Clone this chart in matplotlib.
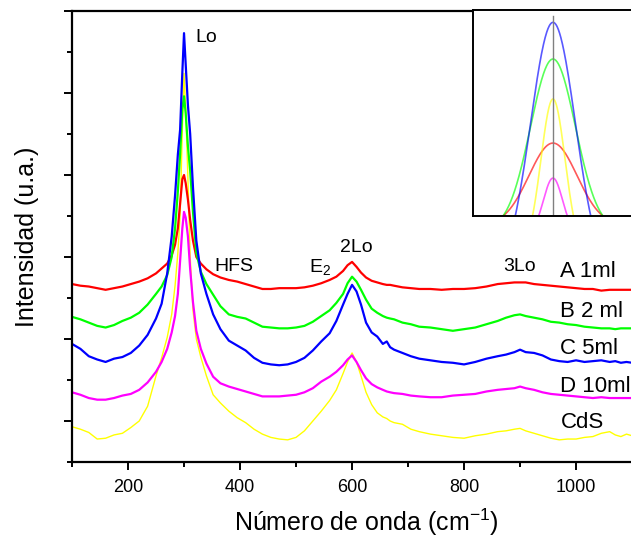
import numpy as np
import matplotlib
matplotlib.use("Agg")
import matplotlib.pyplot as plt
from matplotlib.ticker import MultipleLocator, NullFormatter

plt.rcParams['font.family'] = ['Liberation Sans', 'DejaVu Sans']
plt.rcParams['mathtext.fontset'] = 'custom'
plt.rcParams['mathtext.rm'] = 'Liberation Sans'

# Raman shift (cm-1), shared by all spectra
wavenumber = [100, 115, 130, 145, 160, 175, 190, 205, 220, 235,
              250, 260, 270, 278, 284, 289, 293, 297, 300, 303,
              307, 311, 316, 322, 330, 340, 352, 365, 380, 395,
              410, 425, 440, 455, 470, 485, 500, 515, 530, 545,
              560, 572, 584, 592, 600, 608, 616, 625, 635, 645,
              655, 662, 668, 675, 690, 705, 720, 740, 760, 780,
              800, 820, 840, 860, 875, 890, 900, 910, 925, 940,
              955, 970, 985, 1000, 1015, 1030, 1045, 1060, 1070, 1080,
              1090, 1100]

# stacked intensities (arbitrary units, already offset)
spec_A = [2.17, 2.15, 2.14, 2.12, 2.10, 2.12, 2.14, 2.17, 2.20, 2.24,
          2.30, 2.36, 2.42, 2.52, 2.65, 2.85, 3.15, 3.45, 3.50, 3.40,
          3.20, 2.95, 2.70, 2.50, 2.42, 2.35, 2.29, 2.25, 2.22, 2.20,
          2.17, 2.14, 2.11, 2.11, 2.12, 2.12, 2.12, 2.13, 2.15, 2.18,
          2.22, 2.26, 2.33, 2.40, 2.44, 2.38, 2.31, 2.25, 2.21, 2.19,
          2.17, 2.16, 2.16, 2.15, 2.13, 2.12, 2.11, 2.11, 2.10, 2.11,
          2.11, 2.12, 2.14, 2.17, 2.18, 2.19, 2.19, 2.19, 2.17, 2.16,
          2.15, 2.14, 2.13, 2.12, 2.11, 2.11, 2.09, 2.10, 2.10, 2.10,
          2.10, 2.10]
spec_B = [1.77, 1.74, 1.70, 1.66, 1.64, 1.67, 1.72, 1.76, 1.82, 1.92,
          2.05, 2.14, 2.28, 2.50, 2.85, 3.30, 3.75, 4.30, 4.46, 4.25,
          3.85, 3.55, 3.05, 2.55, 2.32, 2.17, 2.04, 1.90, 1.80, 1.77,
          1.75, 1.70, 1.65, 1.64, 1.63, 1.63, 1.64, 1.66, 1.71, 1.78,
          1.85, 1.94, 2.05, 2.18, 2.26, 2.20, 2.10, 1.98, 1.87, 1.82,
          1.78, 1.76, 1.75, 1.74, 1.70, 1.68, 1.65, 1.64, 1.62, 1.60,
          1.62, 1.64, 1.68, 1.72, 1.76, 1.79, 1.80, 1.78, 1.76, 1.74,
          1.71, 1.70, 1.68, 1.67, 1.65, 1.64, 1.63, 1.63, 1.62, 1.63,
          1.63, 1.63]
spec_C = [1.44, 1.38, 1.29, 1.25, 1.22, 1.26, 1.28, 1.33, 1.42, 1.55,
          1.75, 1.93, 2.30, 2.75, 3.25, 3.75, 4.05, 4.75, 5.23, 4.85,
          4.35, 4.00, 3.35, 2.70, 2.30, 2.05, 1.80, 1.62, 1.48, 1.42,
          1.36, 1.27, 1.21, 1.19, 1.18, 1.19, 1.22, 1.27, 1.36, 1.47,
          1.57, 1.72, 1.92, 2.05, 2.16, 2.08, 1.92, 1.70, 1.58, 1.53,
          1.44, 1.47, 1.40, 1.37, 1.33, 1.29, 1.26, 1.24, 1.22, 1.21,
          1.19, 1.22, 1.26, 1.29, 1.31, 1.34, 1.37, 1.34, 1.33, 1.30,
          1.25, 1.23, 1.22, 1.24, 1.22, 1.23, 1.24, 1.22, 1.23, 1.21,
          1.22, 1.21]
spec_D = [0.85, 0.82, 0.78, 0.76, 0.76, 0.78, 0.81, 0.83, 0.88, 0.97,
          1.10, 1.22, 1.38, 1.58, 1.78, 2.05, 2.45, 2.85, 3.05, 2.98,
          2.75, 2.35, 1.95, 1.60, 1.38, 1.20, 1.04, 0.96, 0.92, 0.89,
          0.86, 0.83, 0.80, 0.80, 0.80, 0.81, 0.82, 0.85, 0.90, 0.98,
          1.04, 1.10, 1.18, 1.25, 1.30, 1.22, 1.12, 1.02, 0.95, 0.91,
          0.88, 0.86, 0.85, 0.84, 0.83, 0.81, 0.80, 0.79, 0.79, 0.81,
          0.82, 0.83, 0.86, 0.88, 0.89, 0.90, 0.92, 0.90, 0.88, 0.85,
          0.83, 0.82, 0.81, 0.80, 0.79, 0.78, 0.79, 0.78, 0.78, 0.78,
          0.78, 0.78]
spec_CdS = [0.43, 0.40, 0.36, 0.28, 0.29, 0.33, 0.35, 0.42, 0.50, 0.68,
            1.05, 1.27, 1.52, 1.80, 2.15, 2.55, 3.00, 4.05, 4.74, 4.30,
            3.45, 2.50, 1.85, 1.50, 1.28, 1.05, 0.82, 0.72, 0.62, 0.54,
            0.48, 0.40, 0.34, 0.30, 0.28, 0.27, 0.30, 0.38, 0.50, 0.62,
            0.75, 0.88, 1.08, 1.22, 1.33, 1.22, 1.05, 0.85, 0.70, 0.60,
            0.55, 0.53, 0.50, 0.48, 0.46, 0.40, 0.37, 0.34, 0.32, 0.30,
            0.29, 0.32, 0.34, 0.37, 0.38, 0.40, 0.41, 0.38, 0.35, 0.32,
            0.29, 0.27, 0.28, 0.28, 0.30, 0.31, 0.35, 0.37, 0.33, 0.31,
            0.34, 0.32]

sample_labels = ['A 1ml', 'B 2 ml', 'C 5ml', 'D 10ml', 'CdS']
label_y = [2.32, 1.83, 1.39, 0.92, 0.48]
colors = ['#ff0000', '#00ff00', '#0000ff', '#ff00ff', '#ffff00']

# inset: gaussian fits of the Lo band (amplitude, sigma, offset)
fit_amp = [0.40, 0.831, 1.24, 0.273, 0.74]
fit_sigma = [0.30, 0.28, 0.28, 0.12, 0.15]
fit_offset = [-0.046, -0.069, -0.30, -0.089, -0.172]

fig = plt.figure(figsize=(6.31, 5.38), dpi=100)
ax = fig.add_axes([72 / 631, 76 / 538, 564 / 631, 451 / 538])

spectra = [spec_A, spec_B, spec_C, spec_D, spec_CdS]
draw_order = [4, 3, 0, 1, 2]
for i in draw_order:
    lw = 1.0 if i == 4 else 1.6
    ax.plot(wavenumber, spectra[i], color=colors[i], lw=lw)

ax.set_xlim(100, 1107)
ax.set_ylim(0, 5.5)
ax.xaxis.set_major_locator(MultipleLocator(200))
ax.xaxis.set_minor_locator(MultipleLocator(200, offset=100))
ax.yaxis.set_major_locator(MultipleLocator(1, offset=0.5))
ax.yaxis.set_minor_locator(MultipleLocator(1))
ax.yaxis.set_major_formatter(NullFormatter())
ax.tick_params(which='major', direction='out', length=6, width=1.4,
               labelsize=13, pad=6)
ax.tick_params(which='minor', direction='out', length=3.5, width=1.4)
for sp in ax.spines.values():
    sp.set_linewidth(1.6)

ax.set_xlabel('Número de onda (cm$^{-1}$)', fontsize=18)
ax.xaxis.set_label_coords(0.521, -0.1)
ax.set_ylabel('Intensidad (u.a.)', fontsize=18, labelpad=12)

# band assignments
ax.text(320, 5.18, 'Lo', fontsize=14, va='center')
ax.text(355, 2.38, 'HFS', fontsize=14, va='center')
ax.text(523, 2.37, 'E$_2$', fontsize=14, va='center')
ax.text(578, 2.61, '2Lo', fontsize=14, va='center')
ax.text(870, 2.39, '3Lo', fontsize=14, va='center')

for lab, y in zip(sample_labels, label_y):
    ax.text(972, y, lab, fontsize=16, va='center')

# inset with the fitted Lo peaks
ins = fig.add_axes([473 / 631, 322 / 538, 164 / 631, 206 / 538])
xs = np.linspace(-1, 1, 400)
for i in [0, 4, 3, 1, 2]:
    ys = fit_amp[i] * np.exp(-xs ** 2 / (2 * fit_sigma[i] ** 2)) + fit_offset[i]
    ins.plot(xs, ys, color=colors[i], lw=1.2, alpha=0.65)
ins.axvline(0, ymax=0.97, color='gray', lw=1)
ins.set_xlim(-1, 1.05)
ins.set_ylim(0, 1)
ins.set_xticks([])
ins.set_yticks([])
for sp in ins.spines.values():
    sp.set_linewidth(1.4)

fig.savefig('out.png', dpi=100)
